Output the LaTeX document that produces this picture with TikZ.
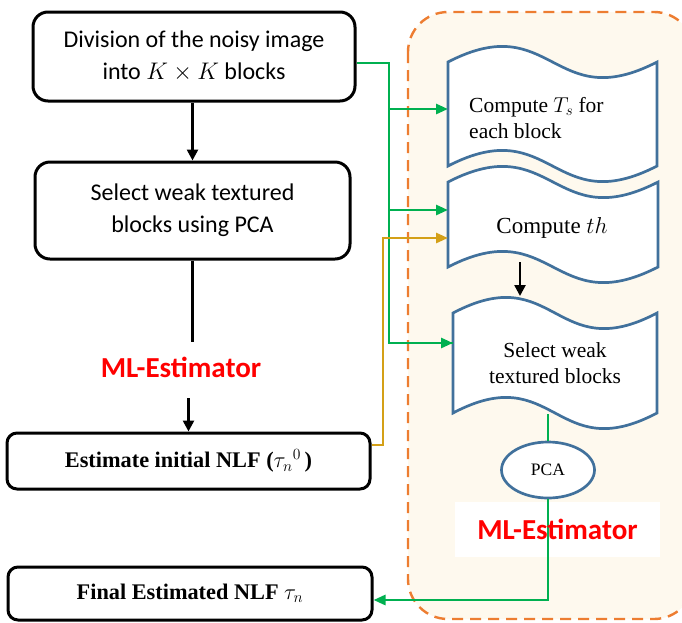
\documentclass[tikz,border=0pt]{standalone}
\usepackage{fix-cm}
\usepackage{fontspec}
\setmainfont{Liberation Serif}
\newfontfamily\carlito{Carlito}
\usetikzlibrary{shapes.geometric,arrows.meta,calc}

\definecolor{edgegreen}{HTML}{00B050}
\definecolor{tapeblue}{HTML}{41719C}
\definecolor{dashorange}{HTML}{ED7D31}
\definecolor{feedgold}{HTML}{D4A017}
\definecolor{cream}{HTML}{FEF9EE}
\definecolor{mlred}{HTML}{FF0000}

% wavy "punched tape" box: x-left, x-right, y of top edge, y of bottom edge
\newcommand{\tapeshape}[4]{%
  \draw[tapeline] (#1,#3) .. controls ({(#1+#2)/2},{#3-54}) and ({(#1+#2)/2},{#3+54}) .. (#2,#3)
    -- (#2,#4) .. controls ({(#1+#2)/2},{#4+54}) and ({(#1+#2)/2},{#4-54}) .. (#1,#4) -- cycle;}

\begin{document}
\begin{tikzpicture}[x=1pt,y=-1pt,
  stepbox/.style={draw, line width=3pt, rounded corners=15pt, align=center,
    font=\carlito\fontsize{24}{32}\selectfont},
  resultbox/.style={draw, line width=3pt, rounded corners=10pt, align=center,
    font=\bfseries\fontsize{22.3}{26}\selectfont},
  tapeline/.style={draw=tapeblue, line width=2.7pt, fill=white},
  tapetext/.style={font=\fontsize{21.5}{26}\selectfont, inner sep=0pt},
  mltext/.style={text=mlred, font=\carlito\bfseries\fontsize{29}{32}\selectfont},
  blackarrow/.style={line width=2.5pt, -{Triangle[length=11pt,width=11pt]}},
  blackline/.style={line width=2.5pt},
  greenline/.style={draw=edgegreen, line width=2.7pt},
  greenarrow/.style={greenline, -{Triangle[length=12pt,width=10pt]}},
  goldarrow/.style={draw=feedgold, line width=2.7pt, -{Triangle[length=12pt,width=10pt]}},
]
\useasboundingbox (0,0) rectangle (682,622);

% dashed estimator region (runs past the right edge)
\begin{scope}
  \clip (0,0) rectangle (682,622);
  \draw[dashorange, fill=cream, line width=2.4pt, dash pattern=on 11pt off 7pt,
        rounded corners=40pt] (408,12) rectangle (694,619);
\end{scope}

% left column
\node[stepbox, minimum width=322pt, minimum height=89pt] (b1) at (194,56.5)
  {Division of the noisy image\\into $K\times K$ blocks};
\node[stepbox, minimum width=315pt, minimum height=97pt] (b2) at (192.5,210.5)
  {Select weak textured\\blocks using PCA};
\node[mltext, text height=19pt, text depth=5pt, inner ysep=16pt] (ml1) at (181,370) {ML-Estimator};
\node[resultbox, minimum width=363pt, minimum height=56pt] (b3) at (188.5,461)
  {Estimate initial NLF ($\tau_n{}^{0}$\,)};
\node[resultbox, minimum width=364pt, minimum height=53pt] (b4) at (190,593.5)
  {Final Estimated NLF $\tau_n$};

\draw[blackarrow] (b1.south -| b2.north) -- (b2.north);
\draw[blackline] (b2.south) -- (b2.south |- ml1.north);
\draw[blackarrow] (ml1.south -| b3.north) -- (b3.north);

% right column: wavy process boxes
\tapeshape{448}{657}{62}{166}
\tapeshape{448}{658}{182}{267}
\tapeshape{453}{657}{313}{413}

\node[tapetext, align=left, anchor=west] (t1) at (469,118) {Compute $T_s$ for\\each block};
\node[tapetext, font=\fontsize{23}{27}\selectfont] (t2) at (552,228) {Compute $th$};
\node[tapetext, align=center] (t3) at (555,363) {Select weak\\textured blocks};

\coordinate (t1w) at (448,109);
\coordinate (t2w) at (448,210);
\coordinate (t2g) at (448,238);
\coordinate (t3w) at (453,343);
\coordinate (t2s) at (520,262);
\coordinate (t3n) at (520,296);
\coordinate (t3s) at (548,414);
\coordinate (gbus) at (389,200);
\coordinate (fbus) at (383,300);

\node[draw=tapeblue, line width=2.7pt, fill=white, ellipse, minimum width=93pt,
      minimum height=56pt, font=\fontsize{17.5}{20}\selectfont] (pca) at (548,470) {PCA};

\node[fill=white, minimum width=205pt, minimum height=55pt] (mlbg) at (557.5,529.5) {};

% connectors
\draw[blackarrow] (t2s) -- (t3n);
\draw[greenline] (t3s) -- (pca.north);
\draw[greenarrow] (pca.south) |- ([yshift=-6.5pt]b4.east);
\draw[greenline] ([yshift=-6.5pt]b1.east) -| (gbus) |- (t3w);
\draw[greenarrow] (gbus |- t3w) -- (t3w);
\draw[greenarrow] (gbus |- t1w) -- (t1w);
\draw[greenarrow] (gbus |- t2w) -- (t2w);
\draw[goldarrow] ([yshift=16pt]b3.east) -| (fbus) |- (t2g);

\node[mltext] (ml2) at (mlbg) {ML-Estimator};
\end{tikzpicture}
\end{document}
